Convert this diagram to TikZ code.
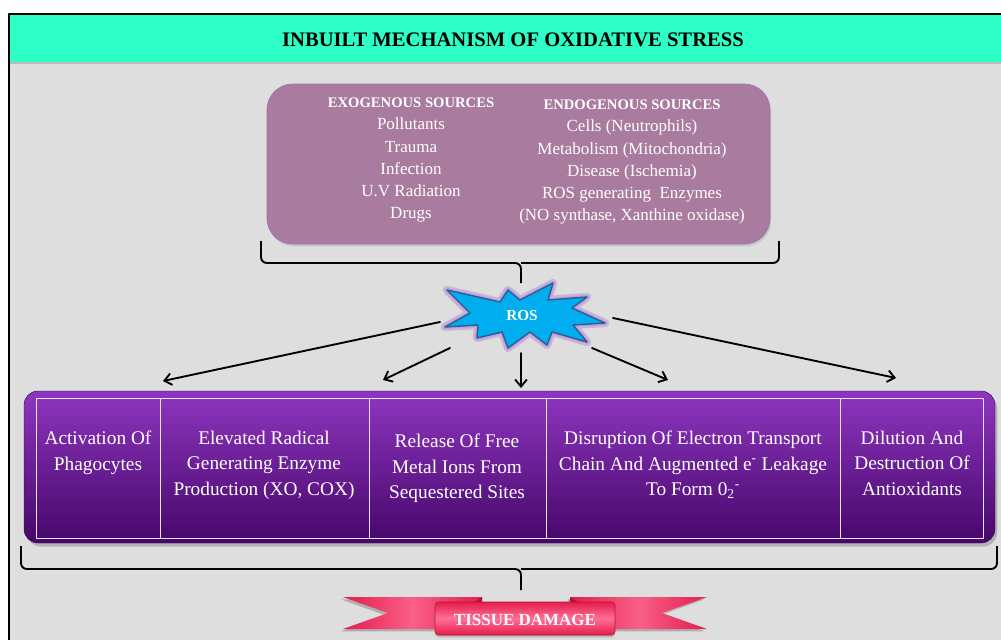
\documentclass[tikz,border=0pt]{standalone}
\usepackage{fontspec}
\setmainfont{Liberation Serif}
\usepackage{tikz}
\usetikzlibrary{arrows.meta,shadows,positioning,calc}
\definecolor{panel}{HTML}{DEDEDE}
\definecolor{mint}{HTML}{2EFFC6}
\definecolor{mauve}{HTML}{A97B9E}
\definecolor{mauveline}{HTML}{9A74B8}
\definecolor{rosblue}{HTML}{00AEEF}
\definecolor{rosedge}{HTML}{2F5C8F}
\definecolor{rosglow}{HTML}{B894DC}
\definecolor{violettop}{HTML}{8E36BF}
\definecolor{violetbot}{HTML}{46076A}
\definecolor{crimson}{HTML}{E31D4C}
\definecolor{crimsonlight}{HTML}{FF7096}
\tikzset{
  SrcBox/.style={
    fill=mauve, draw=mauveline, line width=0.6pt,
    rounded corners=22pt,
    drop shadow={shadow xshift=1pt, shadow yshift=-2pt, opacity=0.25}
  },
  SrcText/.style={
    text=white, align=center, anchor=north,
    font=\fontsize{14.5}{18.9}\selectfont
  },
  EffectBox/.style={
    top color=violettop, bottom color=violetbot, draw=violetbot!80!black,
    rounded corners=12pt,
    drop shadow={shadow xshift=2pt, shadow yshift=-3pt, opacity=0.45}
  },
  EffectText/.style={
    text=white, align=center, anchor=north,
    font=\fontsize{16.5}{21.6}\selectfont
  },
  CellLine/.style={draw=white!85!violettop, line width=0.7pt},
  RosArrow/.style={
    line width=1.6pt, line cap=round,
    -{Straight Barb[length=6pt, width=10pt, line width=1.6pt]}
  },
  BraceLine/.style={line width=1.6pt, rounded corners=5pt},
  RibbonTail/.style={
    left color=crimson, right color=crimson, middle color=crimsonlight!80!crimson,
    drop shadow={shadow xshift=-2pt, shadow yshift=-2pt, opacity=0.5}
  }
}
% bracket with a centre tip: #1 left x, #2 right x, #3 tip x, #4 top y, #5 bar y, #6 tip y
\newcommand{\TipBracket}[6]{%
  \draw[BraceLine] (#1,#4) -- (#1,#5) -- (#3,#5) -- (#3,#6);
  \draw[BraceLine] (#2,#4) -- (#2,#5) -- (#3,#5);
}

\begin{document}
\begin{tikzpicture}[x=0.03cm, y=-0.03cm, line join=round]
  \useasboundingbox (0,0) rectangle (1001,640);
  \fill[white] (0,0) rectangle (1001,640);

  % frame and header
  \fill[panel] (9,14) rectangle (1001,640);
  \fill[mint, drop shadow={shadow xshift=0pt, shadow yshift=-2pt, opacity=0.35}] (9,14) rectangle (1001,62);
  \draw[line width=1.6pt] (9,640) -- (9,14) -- (1001,14);
  \node[font=\fontsize{17.6}{20}\selectfont\bfseries] (title) at (513,40)
    {INBUILT MECHANISM OF OXIDATIVE STRESS};

  % sources
  \path[SrcBox] (267,84) rectangle (770,244);
  \node[SrcText] (exo) at (411,94)
    {{\fontsize{12.5}{15}\selectfont\bfseries EXOGENOUS SOURCES}\\
     Pollutants\\Trauma\\Infection\\U.V Radiation\\Drugs};
  \node[SrcText] (endo) at (632,96)
    {{\fontsize{12.5}{15}\selectfont\bfseries ENDOGENOUS SOURCES}\\
     Cells (Neutrophils)\\Metabolism\ (Mitochondria)\\Disease (Ischemia)\\
     ROS generating\ \ Enzymes\\(NO synthase, Xanthine oxidase)};
  \TipBracket{261}{779}{521}{241}{263}{283}

  % ROS burst
  \def\burst{(447,290) -- (500,302) -- (508,290) -- (520,300) -- (553,283) -- (548,300)
    -- (587,297) -- (572,308) -- (605,323) -- (573,325) -- (587,342) -- (552,332)
    -- (547,345) -- (530,332) -- (508,348) -- (502,332) -- (477,338) -- (478,325)
    -- (445,327) -- (470,313) -- cycle}
  \draw[rosglow, line width=7pt, opacity=0.55] \burst;
  \draw[rosglow, line width=3.5pt, opacity=0.7] \burst;
  \filldraw[fill=rosblue, draw=rosedge, line width=1.2pt] \burst;
  \node[text=white, font=\fontsize{13}{15}\selectfont\bfseries] (ros) at (522,316) {ROS};

  % arrows
  \coordinate (r1) at (440,322);  \coordinate (h1) at (163,381);
  \coordinate (r2) at (450,348);  \coordinate (h2) at (383,380);
  \coordinate (r3) at (521,353);  \coordinate (h3) at (521,388);
  \coordinate (r4) at (592,348);  \coordinate (h4) at (668,380);
  \coordinate (r5) at (613,318);  \coordinate (h5) at (896,378);
  \foreach \i in {1,...,5}
    \draw[RosArrow] (r\i) -- (h\i);

  % effects
  \path[EffectBox] (24,391) rectangle (995,543);
  \draw[CellLine] (36,398) rectangle (983,538);
  \foreach \x in {160,369,546,840}
    \draw[CellLine] (\x,398) -- (\x,538);
  \node[EffectText] (act)  at (98,427)  {Activation Of\\Phagocytes};
  \node[EffectText] (elev) at (264,427) {Elevated Radical\\Generating Enzyme\\Production (XO, COX)};
  \node[EffectText] (rel)  at (457,430) {Release Of Free\\Metal Ions From\\Sequestered Sites};
  \node[EffectText] (disr) at (693,427)
    {Disruption Of Electron Transport\\Chain And Augmented e\textsuperscript{-} Leakage\\To Form 0\textsubscript{2}\textsuperscript{-}};
  \node[EffectText] (dil)  at (912,427) {Dilution And\\Destruction Of\\Antioxidants};
  \TipBracket{21}{997}{521}{546}{569}{590}

  % tissue damage ribbon
  \path[RibbonTail] (343,597) -- (482,597) -- (482,629) -- (343,629) -- (388,613) -- cycle;
  \path[RibbonTail] (707,597) -- (570,597) -- (570,629) -- (707,629) -- (662,613) -- cycle;
  \fill[crimson!75!black] (482,597) -- (482,605) -- (470,605) -- cycle;
  \fill[crimson!75!black] (570,597) -- (570,605) -- (582,605) -- cycle;
  \path[top color=crimson, bottom color=crimson, middle color=crimsonlight,
        draw=crimson!80!black, line width=0.5pt, rounded corners=3pt,
        drop shadow={shadow xshift=0pt, shadow yshift=-2pt, opacity=0.4}]
    (435,602) rectangle (615,635);
  \node[text=white, font=\fontsize{14.5}{17}\selectfont\bfseries] (tissue) at (525,620) {TISSUE DAMAGE};
\end{tikzpicture}
\end{document}
